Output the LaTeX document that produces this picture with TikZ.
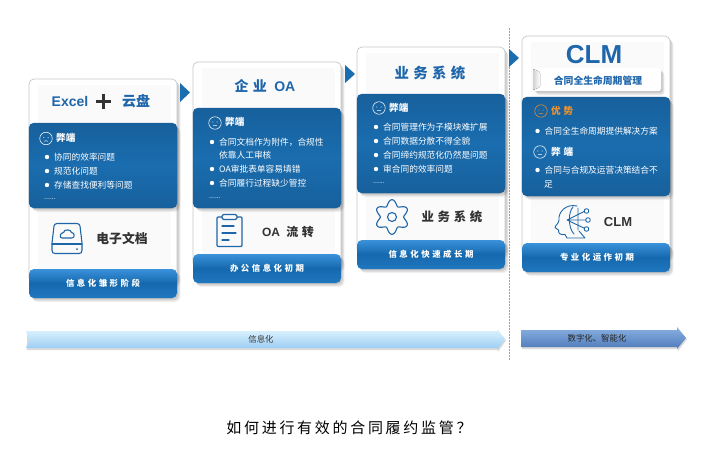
\documentclass[tikz,border=0pt]{standalone}
\usepackage{fontspec}
\setmainfont{Noto Sans CJK SC}
\newfontfamily\latinb{Liberation Sans}[BoldFont=Liberation Sans Bold]
\newfontfamily\cjkwide{Noto Sans CJK SC}[LetterSpace=30]
\newfontfamily\cjkq{Noto Sans CJK SC}[LetterSpace=18]
\definecolor{panelblue}{HTML}{1A6DAF}
\definecolor{paneledge}{HTML}{17609C}
\definecolor{titleblue}{HTML}{1F66AB}
\definecolor{darktxt}{HTML}{333333}
\definecolor{iconblue}{HTML}{1F66A8}
\definecolor{orangetxt}{HTML}{F0922A}
\definecolor{FootLight}{HTML}{3A92DA}
\definecolor{FootDark}{HTML}{1568AD}
\definecolor{FootLow}{HTML}{2078C0}
\definecolor{sepblue}{HTML}{7FA6CC}
\definecolor{phaseAtop}{HTML}{DDF3FE}
\definecolor{phaseAmid}{HTML}{B4DFFA}
\definecolor{phaseAlow}{HTML}{98CBF3}
\definecolor{phaseBtop}{HTML}{8AB0E0}
\definecolor{phaseBlow}{HTML}{4E7BBB}
\usetikzlibrary{calc}
\tikzset{
  cardbox/.style={draw=black!22,line width=.7pt,fill=white,rounded corners=5pt,minimum width=148pt,inner sep=0,outer sep=0,anchor=north west},
  panelbox/.style={rounded corners=5pt,minimum width=148pt,inner sep=0,outer sep=0,anchor=north west,top color=paneledge,bottom color=paneledge,middle color=panelblue,draw=paneledge,line width=.4pt},
  footbox/.style={rounded corners=5pt,minimum width=148pt,minimum height=29pt,inner sep=0,outer sep=0,anchor=north west,top color=FootLight,bottom color=FootLow,middle color=FootDark,draw=none},
  itemtxt/.style={anchor=west,inner sep=0,text=white,font=\fontsize{8.7}{12}\selectfont},
  headtxt/.style={anchor=west,inner sep=0,text=white,font=\fontsize{9.6}{12}\bfseries\selectfont},
  foottxt/.style={inner sep=0,text=white,font=\cjkwide\fontsize{8.4}{10}\bfseries\selectfont},
  titletxt/.style={inner sep=0,text=titleblue,font=\fontsize{14}{16}\bfseries\selectfont},
  labeltxt/.style={inner sep=0,text=darktxt,font=\fontsize{12.8}{14}\bfseries\selectfont},
  dotstxt/.style={anchor=west,inner sep=0,text=white,font=\latinb\fontsize{7}{8}\selectfont},
  iconline/.style={draw=iconblue,line width=1.1pt,line cap=round,line join=round},
  marker/.style={fill=panelblue,draw=none},
}
\newcommand{\softshadow}[5]{% x y w h radius
  \foreach \k in {1,...,5}{
    \fill[black,opacity=.05,rounded corners=#5pt] ({#1+\k*.7},{#2+\k*.8}) rectangle ({#1+#3+\k*.7},{#2+#4+\k*.8});
  }}
\newcommand{\cardstack}[6]{% id x top panelTop panelH footTop
  \pgfmathsetmacro{\cardh}{#6+14-#3}
  \softshadow{#2}{#3}{148}{\cardh}{5}
  \node[cardbox,minimum height=\cardh pt] (#1card) at (#2,#3) {};
  \fill[black!2] ({#2+9},{#3+6}) rectangle ({#2+142},{#6+8});
  \softshadow{#2}{#4}{148}{#5}{5}
  \node[panelbox,minimum height=#5 pt] (#1panel) at (#2,#4) {};
  \softshadow{#2}{#6}{148}{29}{5}
  \node[footbox] (#1foot) at (#2,#6) {};
}
\newcommand{\faceicon}[4][white]{% color, x y name
  \node[circle,draw=#1,line width=.55pt,minimum size=12.5pt,inner sep=0] (#4) at (#2,#3) {};
  \fill[#1] ({#2-2.1},{#3-1}) circle (.55) ({#2+2.1},{#3-1}) circle (.55);
  \draw[#1,line width=.45pt] ({#2-2},{#3+2.8}) .. controls ({#2-.7},{#3+2}) and ({#2+.7},{#3+2}) .. ({#2+2},{#3+2.8});
}
\newcommand{\itemrow}[4]{% name bulletx y text
  \fill[white] (#2,#3) circle (2.2);
  \node[itemtxt] (#1) at ({#2+7},#3) {#4};
}
\begin{document}
\begin{tikzpicture}[x=1pt,y=-1pt]
\useasboundingbox (0,0) rectangle (719,469);
\fill[white] (0,0) rectangle (719,469);

% separator
\draw[draw=sepblue,line width=.5pt,dash pattern=on 1.5pt off 1.5pt] (509.5,28) -- (509.5,360);

% cards
\cardstack{a}{29}{79}{123}{85}{269}
\cardstack{b}{193}{62}{108}{100}{254}
\cardstack{c}{357}{47}{94}{99}{240}
\cardstack{d}{522}{36}{97}{99}{243}

% triangles
\fill[marker] (180,83) -- (190,92.5) -- (180,102) -- cycle;
\fill[marker] (345,65) -- (355,74) -- (345,83) -- cycle;
\fill[marker] (509,49) -- (519,58) -- (509,67) -- cycle;

% card 1
\node[inner sep=0,text=titleblue,font=\latinb\fontsize{14}{16}\bfseries\selectfont] (a1) at (70,101) {Excel};
\fill[darktxt] (96,100.2) rectangle (111,102.8);
\fill[darktxt] (102.2,94) rectangle (104.8,109);
\node[titletxt] (a2) at (136,101) {云盘};
\faceicon{46}{138.5}{aface}
\node[headtxt] (ahead) at (56,138) {弊端};
\itemrow{ai1}{47}{157}{协同的效率问题}
\itemrow{ai2}{47}{171}{规范化问题}
\itemrow{ai3}{47}{185}{存储查找便利等问题}
\node[dotstxt] (adots) at (44,199) {......};
% disk icon
\draw[iconline] (57,223.5) -- (77,223.5) .. controls (79,223.5) and (79.5,224.5) .. (80,226) -- (82,243) -- (82,250) .. controls (82,252.5) and (81,253.5) .. (79,253.5) -- (55,253.5) .. controls (53,253.5) and (52,252.5) .. (52,250) -- (52,243) -- (54,226) .. controls (54.5,224.5) and (55,223.5) .. (57,223.5);
\draw[iconline] (52,244) -- (82,244);
\draw[iconline] (62,238) -- (72,238) .. controls (75,238) and (75,232.5) .. (71.5,232.5) .. controls (71,229) and (64,229) .. (63.5,232.5) .. controls (60,232.5) and (59,238) .. (62,238);
\fill[iconblue] (77,249) circle (1);
\node[labeltxt] (alabel) at (122,239) {电子文档};
\node[foottxt] (afoott) at (103,283.5) {信息化雏形阶段};

% card 2
\node[inner sep=0,text=titleblue,font=\cjkwide\fontsize{14}{16}\bfseries\selectfont] (b1) at (265,86) {企业 {\latinb OA}};
\faceicon{215}{123}{bface}
\node[headtxt] (bhead) at (225,122) {弊端};
\itemrow{bi1}{212}{142}{合同文档作为附件，合规性}
\node[itemtxt] (bi1b) at (219,155.5) {依靠人工审核};
\itemrow{bi2}{212}{169}{OA审批表单容易填错}
\itemrow{bi3}{212}{183}{合同履行过程缺少管控}
\node[dotstxt] (bdots) at (209,198) {......};
% clipboard icon
\draw[iconline,rounded corners=1pt] (222,217) -- (217,217) -- (217,246.5) -- (242,246.5) -- (242,217) -- (237,217);
\draw[iconline,rounded corners=1.5pt] (222,214.5) rectangle (237,219.5);
\draw[iconline] (222,226) -- (234,226) (222,233) -- (236,233) (222,240) -- (229,240);
\node[inner sep=0,text=darktxt,font=\cjkwide\fontsize{12}{14}\bfseries\selectfont] (blabel) at (288,232) {{\latinb OA} 流转};
\node[foottxt] (bfoott) at (267,268.5) {办公信息化初期};

% card 3
\node[inner sep=0,text=titleblue,font=\cjkwide\fontsize{14.4}{16}\bfseries\selectfont] (c1) at (430,73) {业务系统};
\faceicon{379}{108}{cface}
\node[headtxt] (chead) at (389,108) {弊端};
\itemrow{ci1}{376}{127}{合同管理作为子模块难扩展}
\itemrow{ci2}{376}{141}{合同数据分散不得全貌}
\itemrow{ci3}{376}{155}{合同缔约规范化仍然是问题}
\itemrow{ci4}{376}{169}{审合同的效率问题}
\node[dotstxt] (cdots) at (373,183) {......};
% gear icon
\draw[iconline] plot[domain=0:360,samples=121,smooth] ({392+(14.5+2.8*cos(6*(\x-90)))*cos(\x)},{217+(14.5+2.8*cos(6*(\x-90)))*sin(\x)}) -- cycle;
\draw[iconline] (392,217) circle (4.5);
\node[inner sep=0,text=darktxt,font=\cjkwide\fontsize{12.4}{14}\bfseries\selectfont] (clabel) at (452,217) {业务系统};
\node[foottxt] (cfoott) at (431,254.5) {信息化快速成长期};

% card 4
\node[inner sep=0,text=titleblue,font=\latinb\fontsize{26}{28}\bfseries\selectfont] (d1) at (594,55) {CLM};
\softshadow{533}{68}{128}{23}{3}
\node[rounded corners=3pt,fill=white,minimum width=128pt,minimum height=23pt,inner sep=0,anchor=north west] (dsubbox) at (533,68) {};
\fill[left color=black!18,right color=white,rounded corners=1pt] (533,69) -- (540,72) -- (540,87) -- (533,90) -- cycle;
\node[inner sep=0,text=titleblue,font=\fontsize{9.8}{12}\bfseries\selectfont] (dsub) at (598,80.5) {合同全生命周期管理};
\faceicon[orangetxt]{541}{111}{dfacea}
\node[headtxt,text=orangetxt,font=\cjkwide\fontsize{9.6}{12}\bfseries\selectfont] (dheada) at (551,111) {优势};
\itemrow{di1}{537.5}{131}{合同全生命周期提供解决方案}
\faceicon{540}{152}{dfaceb}
\node[headtxt,font=\cjkwide\fontsize{9.6}{12}\bfseries\selectfont] (dheadb) at (551,152) {弊端};
\itemrow{di2}{537.5}{170}{合同与合规及运营决策结合不}
\node[itemtxt] (di2b) at (544,184) {足};
% head icon
\draw[iconline,line width=.9pt] (577,206) .. controls (566,203.5) and (558,212) .. (559,220) .. controls (559,223) and (555,226) .. (555,227.5) .. controls (556,229) and (558,229) .. (558.5,230) .. controls (558,234) and (561,235) .. (565,234.5) -- (567,238) -- (585,238) -- (579,231);
\draw[iconline,line width=.9pt] (567,220) -- (585,211) (567,220) -- (586,220) (567,220) -- (586,229);
\draw[iconline,line width=.9pt] (573,207) .. controls (568,212) and (568,228) .. (574,234) (578,208) -- (578,230);
\draw[iconline,line width=.9pt,fill=white] (586.5,211) circle (2.3) (588,220) circle (2.3) (586.5,229) circle (2.3);
\node[inner sep=0,text=darktxt,font=\latinb\fontsize{13}{14}\bfseries\selectfont] (dlabel) at (618,222) {CLM};
\node[foottxt] (dfoott) at (597,257.5) {专业化运作初期};

% phase arrows
\fill[black,opacity=.14] (27,333) -- (498,333) -- (498,331) -- (506,340.5) -- (498,352) -- (498,350) -- (27,350) -- cycle;
\path[top color=phaseAtop,middle color=phaseAmid,bottom color=phaseAlow] (26,331) -- (497,331) -- (497,329) -- (505,339) -- (497,350) -- (497,348) -- (26,348) -- (29,340) -- cycle;
\node[inner sep=0,font=\fontsize{8.4}{10}\selectfont,text=darktxt] (phasea) at (261,339) {信息化};
\fill[black,opacity=.14] (522,332) -- (678,332) -- (678,329) -- (687,339.5) -- (678,351) -- (678,349) -- (522,349) -- cycle;
\path[top color=phaseBtop,middle color=phaseBlow!80!phaseBtop,bottom color=phaseBlow] (521,330) -- (677,330) -- (677,327) -- (686,338) -- (677,349) -- (677,347) -- (521,347) -- cycle;
\node[inner sep=0,font=\fontsize{8.4}{10}\selectfont,text=black!85] (phaseb) at (597,338) {数字化、智能化};

% question
\node[inner sep=0,font=\cjkq\fontsize{15}{18}\selectfont,text=black] (question) at (349,428) {如何进行有效的合同履约监管？};
\end{tikzpicture}
\end{document}
